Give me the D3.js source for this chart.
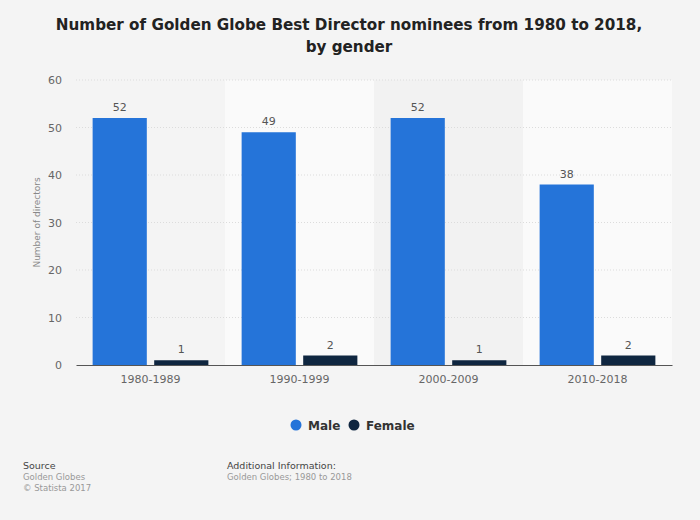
<!DOCTYPE html>
<html><head><meta charset="utf-8">
<script src="https://cdn.jsdelivr.net/npm/d3@7"></script>
<style>
body{margin:0;background:#f4f4f4;}
svg{display:block;font-family:"DejaVu Sans",sans-serif;}
</style></head>
<body><svg id="c" width="700" height="520"></svg>
<script>
const categories = ["1980-1989","1990-1999","2000-2009","2010-2018"];
const male = [52,49,52,38];
const female = [1,2,1,2];
const seriesNames = ["Male","Female"];
const colors = ["#2574d9","#0f2640"];
const yTicks = [0,10,20,30,40,50,60];

const svg = d3.select("#c");
svg.append("rect").attr("width",700).attr("height",520).attr("fill","#f4f4f4");
const L=76,R=672,T=80,B=365;
const x = d3.scaleBand().domain(categories).range([L,R]).padding(0);
const x1 = d3.scaleBand().domain(seriesNames).range([0,x.bandwidth()]).paddingInner(0.12).paddingOuter(0.27);
const y = d3.scaleLinear().domain([0,60]).range([B,T]);

categories.forEach((c,i)=>{
  svg.append("rect").attr("x",x(c)).attr("y",T).attr("width",x.bandwidth()).attr("height",B-T)
    .attr("fill", i%2===1 ? "#fafafa" : (i===2 ? "#f2f2f2":"#f4f4f4"));
});
yTicks.forEach(t=>{
  if(t===0) return;
  svg.append("line").attr("x1",L).attr("x2",R).attr("y1",y(t)).attr("y2",y(t))
    .attr("stroke","#dcdcdc").attr("stroke-width",1).attr("stroke-dasharray","1,2");
});
const yAxis = d3.axisLeft(y).tickValues(yTicks).tickSize(0).tickPadding(14);
const ga = svg.append("g").attr("transform",`translate(${L},0)`).call(yAxis);
ga.select(".domain").remove();
ga.selectAll("text").attr("fill","#666").style("font-size","11px").style("font-family","DejaVu Sans");

svg.append("text").attr("transform",`translate(40,${(T+B)/2}) rotate(-90)`).attr("text-anchor","middle")
  .attr("fill","#888").style("font-size","9px").text("Number of directors");

const data = categories.map((c,i)=>({c, vals:[male[i],female[i]]}));
data.forEach(d=>{
  d.vals.forEach((v,j)=>{
    const bx = x(d.c)+x1(seriesNames[j]);
    svg.append("rect").attr("x",bx).attr("y",y(v)).attr("width",x1.bandwidth()).attr("height",B-y(v))
      .attr("fill",colors[j]);
    svg.append("text").attr("x",bx+x1.bandwidth()/2).attr("y",y(v)-7).attr("text-anchor","middle")
      .attr("fill","#555").style("font-size","11px").text(v);
  });
});

const xAxis = d3.axisBottom(x).tickSize(0).tickPadding(10);
const gx = svg.append("g").attr("transform",`translate(0,${B})`).call(xAxis);
gx.select(".domain").attr("stroke","#555").attr("stroke-width",1);
gx.selectAll("text").attr("fill","#666").style("font-size","11px").style("font-family","DejaVu Sans");

const title = svg.append("text").attr("text-anchor","middle").attr("fill","#222")
  .style("font-size","15.2px").style("font-weight","bold");
title.append("tspan").attr("x",349).attr("y",30).text("Number of Golden Globe Best Director nominees from 1980 to 2018,");
title.append("tspan").attr("x",349).attr("y",52).text("by gender");

const leg = [{n:"Male",cx:296,tx:308},{n:"Female",cx:354,tx:366}];
leg.forEach((l,i)=>{
  svg.append("circle").attr("cx",l.cx).attr("cy",425).attr("r",5.5).attr("fill",colors[i]);
  svg.append("text").attr("x",l.tx).attr("y",429.5).attr("fill","#333").style("font-size","12px")
    .style("font-weight","bold").text(l.n);
});

svg.append("text").attr("x",23).attr("y",469).attr("fill","#444").style("font-size","9.5px").text("Source");
svg.append("text").attr("x",23).attr("y",480).attr("fill","#999").style("font-size","8.5px").text("Golden Globes");
svg.append("text").attr("x",23).attr("y",491).attr("fill","#999").style("font-size","8.5px").text("© Statista 2017");
svg.append("text").attr("x",227).attr("y",469).attr("fill","#444").style("font-size","9.5px").text("Additional Information:");
svg.append("text").attr("x",227).attr("y",480).attr("fill","#999").style("font-size","8.5px").text("Golden Globes; 1980 to 2018");
</script></body></html>
